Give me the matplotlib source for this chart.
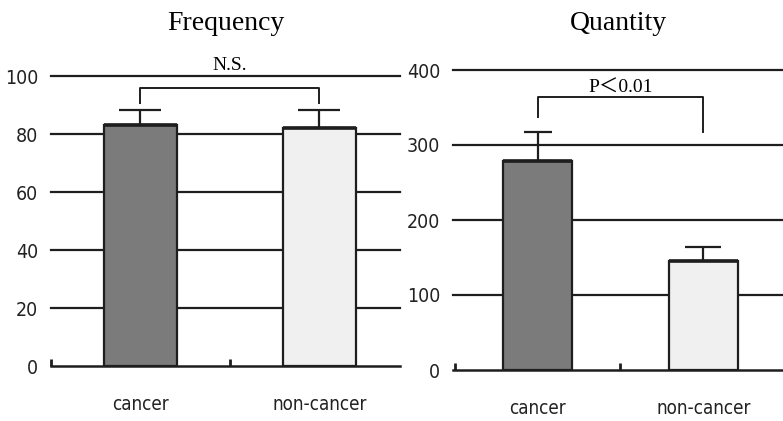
import matplotlib
matplotlib.use("Agg")
import matplotlib.pyplot as plt
from matplotlib import font_manager as fm

# values
groups = ["cancer", "non-cancer"]
freq_mean = [83.1, 81.9]
freq_err = [5.2, 6.4]
qty_mean = [279, 145]
qty_err = [38, 19]
freq_ticks = [0, 20, 40, 60, 80, 100]
qty_ticks = [0, 100, 200, 300, 400]

# look for a condensed sans face, the axis labels in the original are very narrow
narrow_files = sorted(f.fname for f in fm.fontManager.ttflist
                      if ("Narrow" in f.name or "Condensed" in f.fname or "Narrow" in f.fname)
                      and "Bold" not in f.fname and "Italic" not in f.fname
                      and "Oblique" not in f.fname and "Mono" not in f.fname
                      and "Serif" not in f.fname)
if narrow_files:
    ytick_font = fm.FontProperties(fname=narrow_files[0], size=14)
    xtick_font = fm.FontProperties(fname=narrow_files[0], size=13.5)
else:
    ytick_font = fm.FontProperties(family="Liberation Sans", size=13)
    xtick_font = fm.FontProperties(family="Liberation Sans", size=12)
serif = ["Liberation Serif", "Noto Sans CJK JP"]

bar_colors = ["#7b7b7b", "#f0f0f0"]
ink = "#1e1e1e"

fig = plt.figure(figsize=(7.83, 4.21), dpi=100)
ax1 = fig.add_axes([51 / 783, 1 - 366 / 421, 349 / 783, 290 / 421])
ax2 = fig.add_axes([453 / 783, 1 - 370 / 421, 330 / 783, 300 / 421])


def panel(ax, means, errs, ticks, xlim, width, caps, title, title_y):
    x = list(range(len(means)))
    for t in ticks[1:]:
        ax.axhline(t, color=ink, lw=1.6, zorder=1, clip_on=False)
    ax.bar(x, means, width=width, color=bar_colors, edgecolor=ink, linewidth=1.6, zorder=3)
    ax.hlines(means, [i - width / 2 for i in x], [i + width / 2 for i in x],
              color=ink, lw=2.6, zorder=4)
    for i in x:
        ax.errorbar(i, means[i], yerr=[[0], [errs[i]]], fmt="none", ecolor=ink,
                    elinewidth=1.6, capsize=caps[i], capthick=1.6, zorder=2)
    ax.set_xlim(*xlim)
    ax.set_ylim(0, ticks[-1])
    for s in ["top", "right", "left"]:
        ax.spines[s].set_visible(False)
    ax.spines["bottom"].set_linewidth(1.8)
    ax.spines["bottom"].set_color(ink)
    ax.set_yticks(ticks)
    ax.set_yticklabels([str(t) for t in ticks], fontproperties=ytick_font, color="#222222")
    ax.tick_params(axis="y", length=0, pad=9)
    ax.set_xticks(x)
    ax.set_xticklabels(groups, fontproperties=xtick_font, color="#222222")
    ax.tick_params(axis="x", which="major", length=0, pad=21)
    ax.set_xticks([-0.5, 0.5], minor=True)
    ax.tick_params(axis="x", which="minor", direction="in", length=5, width=2, color=ink)
    ax.text(0.5, title_y, title, transform=ax.transAxes, ha="center", va="center",
            fontfamily="Liberation Serif", fontsize=20)


panel(ax1, freq_mean, freq_err, freq_ticks, (-0.5, 1.45), 0.413, [15, 15],
      "Frequency", (421 - 23 - 55) / 290)
panel(ax2, qty_mean, qty_err, qty_ticks, (-0.51, 1.48), 0.416, [10, 13],
      "Quantity", (421 - 23 - 51) / 300)

# significance brackets
ax1.plot([0, 0, 1, 1], [90.7, 95.8, 95.8, 90.7], color=ink, lw=1.4, clip_on=False, zorder=5)
ax1.text(0.5, 103.6, "N.S.", ha="center", va="center", fontfamily=serif, fontsize=14)
ax2.plot([0, 0, 1, 1], [337, 364, 364, 317], color=ink, lw=1.4, clip_on=False, zorder=5)
ax2.text(0.5, 375, "P＜0.01", ha="center", va="center", fontfamily=serif, fontsize=14)

fig.savefig("out.png", dpi=100)
